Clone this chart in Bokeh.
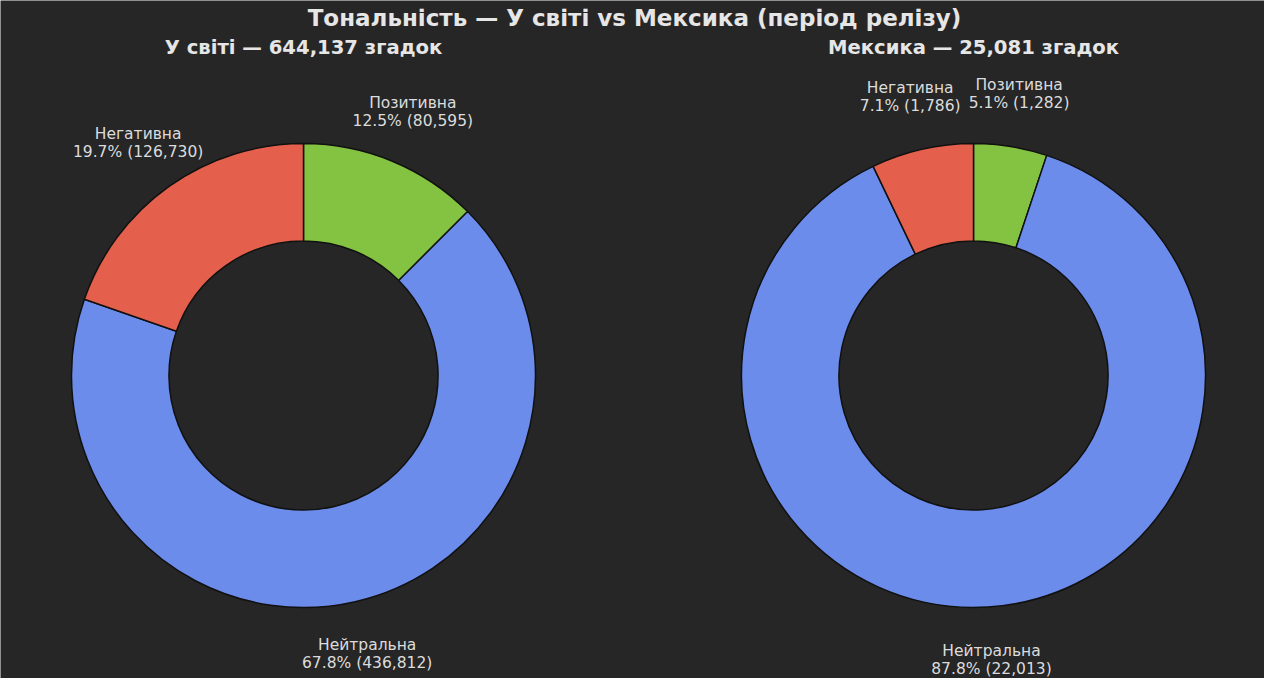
import numpy as np

from bokeh.plotting import figure
from bokeh.models import ColumnDataSource
from bokeh.core.properties import value
from bokeh.embed import file_html
from bokeh.resources import INLINE

title_main = "Тональність — У світі vs Мексика (період релізу)"
categories = ["Позитивна", "Нейтральна", "Негативна"]
colors = ["#84c341", "#6c8cec", "#e4604c"]

regions = ["У світі", "Мексика"]
world_counts = [80595, 436812, 126730]
mexico_counts = [1282, 22013, 1786]

BG = "#262626"
W, H = 1264, 678
R_PX = 232          # outer radius in px = one data unit
INNER = 0.58
LABEL_DIST = 1.23
CX_PX = [303, 973]  # donut centres, px from left
CY_PX = 375         # px from top
FONT = value("DejaVu Sans")

x0 = -CX_PX[0] / R_PX
x1 = (W - CX_PX[0]) / R_PX
y1 = CY_PX / R_PX
y0 = -(H - CY_PX) / R_PX

p = figure(width=W, height=H, x_range=(x0, x1), y_range=(y0, y1),
           output_backend="svg", toolbar_location=None, min_border=0)
p.axis.visible = False
p.grid.visible = False
p.outline_line_color = None
p.background_fill_color = BG
p.border_fill_color = BG

for i, (name, counts) in enumerate(zip(regions, [world_counts, mexico_counts])):
    cx = (CX_PX[i] - CX_PX[0]) / R_PX
    total = sum(counts)
    frac = np.array(counts) / total
    cum = np.concatenate([[0], np.cumsum(frac)])
    start = np.pi / 2 - 2 * np.pi * cum[:-1]
    end = np.pi / 2 - 2 * np.pi * cum[1:]
    mid = (start + end) / 2
    src = ColumnDataSource(dict(
        x=[cx] * 3, y=[0] * 3, start=start, end=end, color=colors,
        lx=cx + LABEL_DIST * np.cos(mid), ly=LABEL_DIST * np.sin(mid),
        name=categories,
        pct=[f"{v / total * 100:.1f}% ({v:,})" for v in counts],
    ))
    p.annular_wedge(x="x", y="y", inner_radius=INNER, outer_radius=1,
                    start_angle="start", end_angle="end", direction="clock",
                    fill_color="color", line_color="#111111", line_width=1.5, source=src)
    p.text(x="lx", y="ly", text="name", source=src, y_offset=-9, text_align="center",
           text_baseline="middle", text_color="#dcdcdc", text_font_size="15.5px", text_font=FONT)
    p.text(x="lx", y="ly", text="pct", source=src, y_offset=9, text_align="center",
           text_baseline="middle", text_color="#dcdcdc", text_font_size="15.5px", text_font=FONT)
    p.text(x=[cx], y=[y1 - 47 / R_PX], text=[f"{name} — {total:,} згадок"],
           text_align="center", text_baseline="middle", text_color="#e6e6e6",
           text_font_size="19.6px", text_font_style="bold", text_font=FONT)

p.text(x=[(634 - CX_PX[0]) / R_PX], y=[y1 - 17.5 / R_PX], text=[title_main],
       text_align="center", text_baseline="middle", text_color="#e6e6e6",
       text_font_size="23px", text_font_style="bold", text_font=FONT)

open("out.html", "w").write(file_html(p, INLINE))
